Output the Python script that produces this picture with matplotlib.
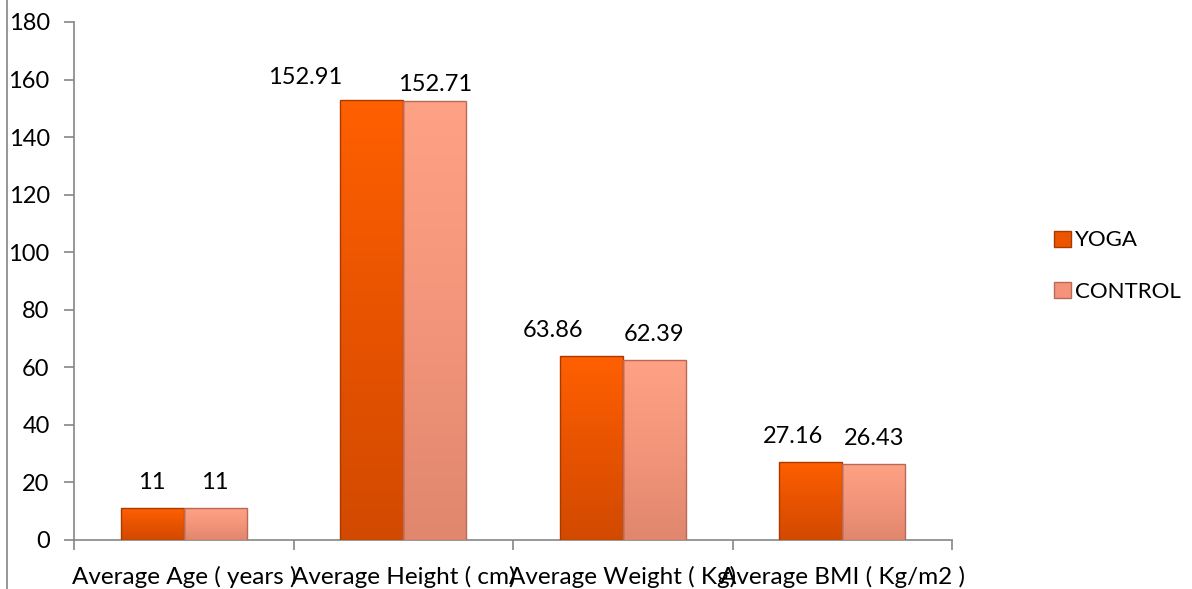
import matplotlib
matplotlib.use("Agg")
import matplotlib.pyplot as plt
from matplotlib.lines import Line2D
from matplotlib.patches import Patch
from matplotlib.colors import LinearSegmentedColormap
import numpy as np

categories = ["Average Age ( years )", "Average Height ( cm)", "Average Weight ( Kg)", "Average BMI ( Kg/m2 )"]
yoga = [11, 152.91, 63.86, 27.16]
control = [11, 152.71, 62.39, 26.43]
yoga_labels = ["11", "152.91", "63.86", "27.16"]
control_labels = ["11", "152.71", "62.39", "26.43"]
series_names = ["YOGA", "CONTROL"]

plt.rcParams['font.family'] = ['Lato', 'DejaVu Sans']

fig = plt.figure(figsize=(11.92, 5.89), dpi=100)
ax = fig.add_axes([74/1192, 1-540/589, (952-74)/1192, (540-22)/589])

yoga_col = "#EC5500"
yoga_edge = "#A83A00"
ctrl_col = "#F5937A"
ctrl_edge = "#B86A58"
yoga_cmap = LinearSegmentedColormap.from_list("y", ["#D24A00", "#E85300", "#FF6000"])
ctrl_cmap = LinearSegmentedColormap.from_list("c", ["#E0876E", "#F3957A", "#FEA184"])

w = 0.287
x = np.arange(len(categories)) + 0.5
bars_y = ax.bar(x - w/2, yoga, width=w, color="none", edgecolor=yoga_edge, linewidth=1.0, zorder=4)
bars_c = ax.bar(x + w/2, control, width=w, color="none", edgecolor=ctrl_edge, linewidth=1.0, zorder=4)

grad = np.linspace(0, 1, 256).reshape(-1, 1)
for bars, cmap in ((bars_y, yoga_cmap), (bars_c, ctrl_cmap)):
    for r in bars:
        x0, y0 = r.get_x(), r.get_y()
        im = ax.imshow(grad, extent=[x0, x0 + r.get_width(), y0, y0 + r.get_height()],
                       origin="lower", aspect="auto", cmap=cmap, zorder=3, interpolation="bilinear")
        im.set_clip_path(r)

# Value labels (offsets mimic the reference placement)
yoga_dx = [0, -67, -38, -18]
yoga_dy = [15, 12, 15, 15]
ctrl_dy = [15, 6, 15, 15]
for i in range(len(categories)):
    ax.annotate(yoga_labels[i], (x[i] - w/2, yoga[i]), xytext=(yoga_dx[i], yoga_dy[i]),
                textcoords="offset pixels", ha="center", va="bottom", fontsize=17)
    ax.annotate(control_labels[i], (x[i] + w/2, control[i]), xytext=(0, ctrl_dy[i]),
                textcoords="offset pixels", ha="center", va="bottom", fontsize=17)

ax.set_xlim(0, len(categories))
ax.set_ylim(0, 180)
ax.set_yticks(np.arange(0, 181, 20))
ax.tick_params(axis="y", labelsize=17, length=7, width=1.2, color="#868686", pad=10.5)
ax.set_xticks(np.arange(0, len(categories) + 1))
ax.set_xticklabels([])
ax.tick_params(axis="x", which="major", length=7, width=1.2, color="#868686")
ax.set_xticks(x, minor=True)
ax.set_xticklabels(categories, minor=True, fontsize=17.5)
ax.tick_params(axis="x", which="minor", length=0, pad=19)

for s in ["top", "right"]:
    ax.spines[s].set_visible(False)
for s in ["left", "bottom"]:
    ax.spines[s].set_color("#868686")
    ax.spines[s].set_linewidth(1.2)

# legend
handles = [Patch(facecolor=yoga_col, edgecolor=yoga_edge), Patch(facecolor=ctrl_col, edgecolor=ctrl_edge)]
fig.legend(handles, series_names, loc="center left", bbox_to_anchor=(1045/1192, 1-266/589),
           frameon=False, fontsize=16, handlelength=0.75, handleheight=0.75,
           handletextpad=0.2, labelspacing=1.4, borderaxespad=0)

# chart-area border line at the left
fig.add_artist(Line2D([7/1192, 7/1192], [0, 1], transform=fig.transFigure, color="#868686", linewidth=1.2))

fig.savefig("out.png", dpi=100)
